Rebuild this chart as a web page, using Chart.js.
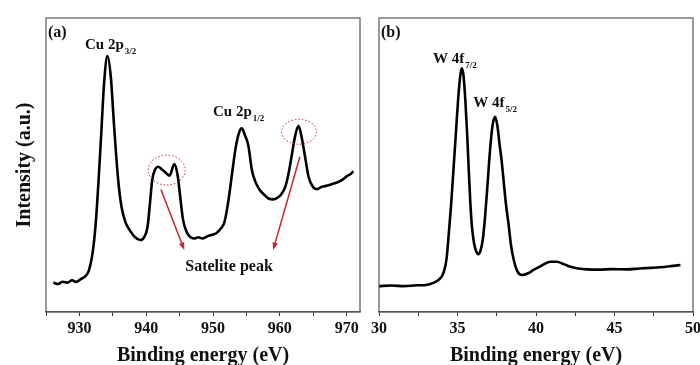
<!DOCTYPE html>
<html>
<head>
<meta charset="utf-8">
<script src="https://cdn.jsdelivr.net/npm/chart.js@4"></script>
<style>
  body { margin: 0; background: #fff; }
  #wrap { position: relative; width: 700px; height: 365px; overflow: hidden; }
  canvas { position: absolute; top: 0; }
  #cuCanvas { left: 0; }
  #wCanvas { left: 365px; }
</style>
</head>
<body>
<div id="wrap">
  <canvas id="cuCanvas" width="365" height="365"></canvas>
  <canvas id="wCanvas" width="350" height="365"></canvas>
</div>
<script>
// --- Cu 2p spectrum, panel (a) ---
const cuEnergy = [926.1, 926.8, 927.5, 928.2, 928.9, 929.5, 930.2, 930.9, 931.4, 931.9,
    932.3, 932.6, 932.9, 933.3, 933.7, 934.2, 934.7, 935.2, 935.8, 936.3,
    936.9, 937.6, 938.3, 939.1, 939.7, 940.2, 940.6, 940.9, 941.3, 941.8,
    942.3, 942.8, 943.5, 944.2, 944.7, 945.1, 945.5, 946.1, 946.6, 947.1,
    947.8, 948.4, 949.1, 949.8, 950.5, 951.1, 951.7, 952.1, 952.5, 952.9,
    953.4, 953.9, 954.3, 954.8, 955.3, 955.8, 956.3, 957.0, 957.7, 958.3,
    959.0, 959.6, 960.2, 960.8, 961.3, 961.8, 962.3, 962.8, 963.3, 963.8,
    964.3, 965.0, 965.6, 966.2, 966.9, 967.5, 968.2, 968.9, 969.5, 970.1,
    970.6, 971.0];
const cuIntensity = [10.0, 9.5, 10.3, 10.0, 10.8, 10.2, 11.2, 12.2, 14.0, 19,
    26.5, 35, 46, 62, 78, 87.1, 80, 63, 45, 35.8,
    30.5, 27.6, 25.5, 24.5, 25.5, 29, 38, 45, 48.3, 49.4,
    48.6, 47.6, 46.4, 50.3, 46.5, 39, 31.5, 27.0, 25.5, 25.0,
    25.4, 25.0, 25.7, 26.2, 26.8, 28.2, 30.5, 35, 41, 48,
    56, 61, 62.5, 60, 56.5, 48.5, 44.5, 41.5, 39.8, 38.6,
    38.3, 38.8, 40.0, 42.5, 47, 53.5, 60, 63.3, 59, 52.5,
    46, 42.4, 41.8, 42.5, 42.9, 43.3, 43.8, 44.4, 45.2, 46.3,
    46.9, 47.9];

// --- W 4f spectrum, panel (b) ---
const wEnergy = [30.0, 30.8, 31.6, 32.4, 33.0, 33.5, 33.8, 34.1, 34.3, 34.45,
    34.6, 34.75, 34.9, 35.05, 35.18, 35.27, 35.38, 35.5, 35.62, 35.72,
    35.82, 35.92, 36.05, 36.2, 36.33, 36.47, 36.62, 36.75, 36.88, 37.0,
    37.12, 37.25, 37.4, 37.55, 37.68, 37.8, 37.93, 38.1, 38.25, 38.4,
    38.57, 38.8, 39.1, 39.5, 39.84, 40.3, 40.9, 41.33, 41.8, 42.2,
    42.7, 43.25, 44.0, 44.8, 45.8, 46.6, 47.3, 47.9, 48.6, 49.2];
const wIntensity = [8.8, 9.0, 8.8, 9.1, 9.2, 10.0, 10.9, 13.2, 18, 27,
    37, 49, 61, 73, 80.5, 82.9, 80.5, 72, 60, 48,
    37, 29, 23.5, 20.5, 19.7, 21, 25, 32, 41, 50,
    58, 64, 66.4, 63, 57, 52, 45, 36, 30, 23,
    18, 14, 12.6, 13.2, 14.3, 15.6, 17.1, 17.1, 16.2, 15.4,
    14.8, 14.5, 14.4, 14.6, 14.5, 14.8, 15.0, 15.2, 15.6, 16.0];

// axis ranges and tick steps
const cuRange = [925, 972], cuStep = 5, cuLabelEvery = 10;
const wRange = [30, 50], wStep = 2.5, wLabelEvery = 5;

// peak labels [main, subscript, energy, intensity] (left/baseline anchor)
const cuPeakLabels = [
    ['Cu 2p', '3/2', 930.84, 89.3],
    ['Cu 2p', '1/2', 950.0, 66.8]
];
const wPeakLabels = [
    ['W 4f', '7/2', 33.44, 84.8],
    ['W 4f', '5/2', 36.0, 69.6]
];
// satellite markers: ellipse centres and arrow ends
const cuCircles = [[943.07, 48.3, 18.5, 15], [962.87, 61.3, 17.5, 12.5]];
const cuArrows = [[942.2, 41.7, 945.7, 21.1], [963.0, 52.8, 959.0, 21.1]];
const satText = ['Satelite peak', 952.4, 14.1];

const SERIF = '"Liberation Serif", "Times New Roman", serif';
const RED = '#c4262b';

function drawSubLabel(ctx, main, sub, x, y) {
    ctx.fillStyle = '#111';
    ctx.textAlign = 'left';
    ctx.textBaseline = 'alphabetic';
    ctx.font = 'bold 15px ' + SERIF;
    ctx.fillText(main, x, y);
    var w = ctx.measureText(main).width;
    ctx.font = 'bold 9px ' + SERIF;
    ctx.fillText(sub, x + w + 1, y + 5);
}

const notesPlugin = {
    id: 'xpsNotes',
    afterDatasetsDraw(chart, args, opts) {
        const ctx = chart.ctx, a = chart.chartArea;
        const sx = chart.scales.x, sy = chart.scales.y;
        ctx.save();
        // frame
        ctx.strokeStyle = '#555';
        ctx.lineWidth = 1.2;
        ctx.strokeRect(a.left, a.top, a.right - a.left, a.bottom - a.top);
        // panel letter
        ctx.fillStyle = '#111';
        ctx.font = 'bold 16px ' + SERIF;
        ctx.textAlign = 'left';
        ctx.textBaseline = 'alphabetic';
        ctx.fillText(opts.letter, a.left + 2, a.top + 19);

        (opts.labels || []).forEach(function(l) {
            drawSubLabel(ctx, l[0], l[1], sx.getPixelForValue(l[2]), sy.getPixelForValue(l[3]));
        });

        // dotted circles round the satellites
        (opts.circles || []).forEach(function(c) {
            ctx.beginPath();
            ctx.ellipse(sx.getPixelForValue(c[0]), sy.getPixelForValue(c[1]), c[2], c[3], 0, 0, Math.PI * 2);
            ctx.strokeStyle = RED;
            ctx.lineWidth = 1;
            ctx.setLineDash([1.5, 2]);
            ctx.stroke();
        });
        ctx.setLineDash([]);

        // arrows
        (opts.arrows || []).forEach(function(r) {
            var x1 = sx.getPixelForValue(r[0]), y1 = sy.getPixelForValue(r[1]);
            var x2 = sx.getPixelForValue(r[2]), y2 = sy.getPixelForValue(r[3]);
            var ang = Math.atan2(y2 - y1, x2 - x1);
            ctx.strokeStyle = RED;
            ctx.fillStyle = RED;
            ctx.lineWidth = 1.5;
            ctx.beginPath();
            ctx.moveTo(x1, y1);
            ctx.lineTo(x2 - 5 * Math.cos(ang), y2 - 5 * Math.sin(ang));
            ctx.stroke();
            ctx.beginPath();
            ctx.moveTo(x2, y2);
            ctx.lineTo(x2 - 8 * Math.cos(ang - 0.35), y2 - 8 * Math.sin(ang - 0.35));
            ctx.lineTo(x2 - 8 * Math.cos(ang + 0.35), y2 - 8 * Math.sin(ang + 0.35));
            ctx.closePath();
            ctx.fill();
        });

        if (opts.text) {
            ctx.fillStyle = '#111';
            ctx.font = 'bold 16px ' + SERIF;
            ctx.textAlign = 'center';
            ctx.textBaseline = 'alphabetic';
            ctx.fillText(opts.text[0], sx.getPixelForValue(opts.text[1]), sy.getPixelForValue(opts.text[2]));
        }
        ctx.restore();
    }
};

function makeSpectrum(canvasId, energy, intensity, range, step, labelEvery, yTitle, pad, notes) {
    const pts = energy.map(function(e, i) { return { x: e, y: intensity[i] }; });
    return new Chart(document.getElementById(canvasId), {
        type: 'line',
        data: {
            datasets: [{
                data: pts,
                borderColor: '#000',
                borderWidth: 2.6,
                pointRadius: 0,
                cubicInterpolationMode: 'monotone',
                fill: false
            }]
        },
        plugins: [notesPlugin],
        options: {
            responsive: false,
            animation: false,
            events: [],
            layout: { padding: pad },
            plugins: {
                legend: { display: false },
                tooltip: { enabled: false },
                xpsNotes: notes
            },
            scales: {
                x: {
                    type: 'linear',
                    min: range[0],
                    max: range[1],
                    afterFit: function(s) { s.height = 53; },
                    border: { display: true, color: '#555', width: 1.2 },
                    grid: { display: true, drawOnChartArea: false, tickLength: 4, color: '#333', lineWidth: 1 },
                    ticks: {
                        stepSize: step,
                        includeBounds: false,
                        autoSkip: false,
                        maxRotation: 0,
                        padding: 3,
                        color: '#111',
                        font: { family: SERIF, size: 16, weight: 'bold' },
                        callback: function(v) { return (v % labelEvery === 0) ? String(v) : ''; }
                    },
                    title: {
                        display: true,
                        text: 'Binding energy (eV)',
                        color: '#111',
                        font: { family: SERIF, size: 20, weight: 'bold' },
                        padding: { top: 0, bottom: -3 }
                    }
                },
                y: {
                    min: 0,
                    max: 100,
                    display: !!yTitle,
                    afterFit: function(s) { s.width = yTitle ? 46 : 0; },
                    border: { display: false },
                    grid: { display: false },
                    ticks: { display: false },
                    title: {
                        display: !!yTitle,
                        text: yTitle || '',
                        color: '#111',
                        font: { family: SERIF, size: 20, weight: 'bold' },
                        padding: { top: 13, bottom: 0 }
                    }
                }
            }
        }
    });
}

makeSpectrum('cuCanvas', cuEnergy, cuIntensity, cuRange, cuStep, cuLabelEvery,
    'Intensity (a.u.)', { top: 18, right: 5, left: 0, bottom: 0 },
    { letter: '(a)', labels: cuPeakLabels, circles: cuCircles, arrows: cuArrows, text: satText });

makeSpectrum('wCanvas', wEnergy, wIntensity, wRange, wStep, wLabelEvery,
    null, { top: 18, right: 22, left: 14, bottom: 0 },
    { letter: '(b)', labels: wPeakLabels });
</script>
</body>
</html>
